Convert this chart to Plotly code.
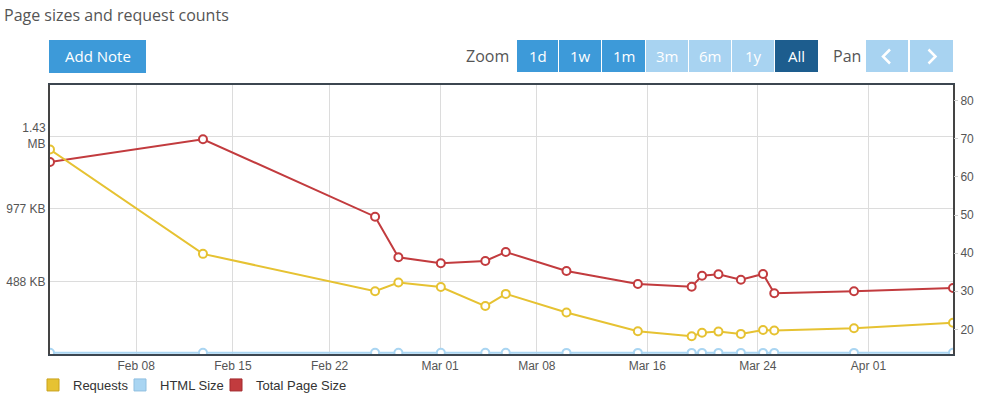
import plotly.graph_objects as go

# ---------------- data ----------------
dates = ["2016-02-01 18:15", "2016-02-12 20:00", "2016-02-25 07:00", "2016-02-26 23:30",
         "2016-03-01 01:15", "2016-03-04 06:30", "2016-03-05 18:00", "2016-03-10 03:30",
         "2016-03-15 07:30", "2016-03-19 05:00", "2016-03-19 23:00", "2016-03-21 03:30",
         "2016-03-22 18:30", "2016-03-24 09:00", "2016-03-25 04:30", "2016-03-30 23:00",
         "2016-04-07 03:00"]
requests = [67.2, 39.8, 30.0, 32.3, 31.1, 26.1, 29.3, 24.4, 19.5, 18.2, 19.1, 19.4,
            18.8, 19.8, 19.7, 20.3, 21.7]
total_page_size = [1321000, 1477600, 945000, 665500, 624200, 640000, 702000, 571200,
                   481700, 463200, 538900, 548500, 511300, 550600, 417700, 431500, 454200]
html_size = [8200, 8100, 7900, 7900, 8000, 7800, 7900, 7700, 7600, 7600, 7700, 7700,
             7600, 7700, 7600, 7700, 7800]

x_tick_dates = ["2016-02-08", "2016-02-15", "2016-02-22", "2016-03-01", "2016-03-08",
                "2016-03-16", "2016-03-24", "2016-04-01"]
left_tick_vals = [500000, 1000000, 1500000]
left_tick_text = ["488 KB", "977 KB", "1.43<br>MB"]
right_tick_vals = [20, 30, 40, 50, 60, 70, 80]

series_names = ["Requests", "HTML Size", "Total Page Size"]

# ---------------- styling ----------------
W, H = 984, 401
PL, PR, PT, PB = 50, 953, 85, 354  # plot area in px


def X(px):
    return (px - PL) / (PR - PL)


def Y(py):
    return (PB - py) / (PB - PT)


YELLOW = "#e6c232"
YELLOW_D = "#c9a21d"
BLUE = "#a9d5f2"
BLUE_D = "#8fbfe0"
RED = "#c23b3e"
RED_D = "#a32a2e"
AXFONT = dict(family="Liberation Sans, Arial, sans-serif", size=12, color="#555555")

fig = go.Figure()


def marker(c):
    return dict(symbol="circle", size=8, color="white", line=dict(color=c, width=2))


fig.add_trace(go.Scatter(x=dates, y=requests, name=series_names[0], yaxis="y2",
                         mode="lines+markers", line=dict(color=YELLOW, width=2),
                         marker=marker(YELLOW), showlegend=False))
fig.add_trace(go.Scatter(x=dates, y=html_size, name=series_names[1], yaxis="y",
                         mode="lines+markers", line=dict(color=BLUE, width=2),
                         marker=marker(BLUE), showlegend=False))
fig.add_trace(go.Scatter(x=dates, y=total_page_size, name=series_names[2], yaxis="y",
                         mode="lines+markers", line=dict(color=RED, width=2),
                         marker=marker(RED), showlegend=False))

# legend swatches (square)
leg_ids = ["legend", "legend2", "legend3"]
for name, c, cd, lid in zip(series_names, [YELLOW, BLUE, RED], [YELLOW_D, BLUE_D, RED_D], leg_ids):
    fig.add_trace(go.Scatter(x=[None], y=[None], name=name, mode="markers", legend=lid,
                             marker=dict(symbol="square", size=12, color=c,
                                         line=dict(color=cd, width=1)),
                             showlegend=True, hoverinfo="skip"))

leg_common = dict(y=Y(385), yanchor="middle", xanchor="left", orientation="h",
                  bgcolor="rgba(0,0,0,0)", borderwidth=0,
                  font=dict(family="Liberation Sans, Arial, sans-serif", size=13, color="#333333"))
legend_left_px = [33, 120, 216]

shapes = []
annotations = []

# Add Note button
shapes.append(dict(type="rect", xref="paper", yref="paper", x0=X(49), x1=X(146), y0=Y(73), y1=Y(40),
                   fillcolor="#3d9ad9", line=dict(width=0), layer="above"))
annotations.append(dict(xref="paper", yref="paper", x=X(97.5), y=Y(56.5), text="Add Note",
                        showarrow=False, xanchor="center", yanchor="middle",
                        font=dict(family="Open Sans, sans-serif", size=15, color="white")))

# Zoom buttons
annotations.append(dict(xref="paper", yref="paper", x=X(511), y=Y(56.5), text="Zoom",
                        showarrow=False, xanchor="right", yanchor="middle",
                        font=dict(family="Open Sans, sans-serif", size=16, color="#555555")))
btns = [("1d", 517, 558, "#3d9ad9"), ("1w", 559, 601, "#3d9ad9"), ("1m", 602, 645, "#3d9ad9"),
        ("3m", 646, 688, "#a8d3f1"), ("6m", 689, 731, "#a8d3f1"), ("1y", 732, 774, "#a8d3f1"),
        ("All", 775, 818, "#1d5d8e")]
for lab, a, b, col in btns:
    shapes.append(dict(type="rect", xref="paper", yref="paper", x0=X(a), x1=X(b), y0=Y(72), y1=Y(40),
                       fillcolor=col, line=dict(width=0), layer="above"))
    annotations.append(dict(xref="paper", yref="paper", x=X((a + b) / 2), y=Y(56.5), text=lab,
                            showarrow=False, xanchor="center", yanchor="middle",
                            font=dict(family="Open Sans, sans-serif", size=15, color="white")))

annotations.append(dict(xref="paper", yref="paper", x=X(831), y=Y(56.5), text="Pan",
                        showarrow=False, xanchor="left", yanchor="middle",
                        font=dict(family="Open Sans, sans-serif", size=16, color="#555555")))
for a, b, d in [(866, 908, -1), (910, 953, 1)]:
    shapes.append(dict(type="rect", xref="paper", yref="paper", x0=X(a), x1=X(b), y0=Y(72), y1=Y(40),
                       fillcolor="#a8d3f1", line=dict(width=0), layer="above"))
    cx = (a + b) / 2
    p = [(cx - 3 * d, 49.5), (cx + 4 * d, 56.5), (cx - 3 * d, 63.5)]
    path = "M {} {} L {} {} L {} {}".format(X(p[0][0]), Y(p[0][1]), X(p[1][0]), Y(p[1][1]),
                                             X(p[2][0]), Y(p[2][1]))
    shapes.append(dict(type="path", xref="paper", yref="paper", path=path,
                       line=dict(color="white", width=2.5), layer="above"))

layout = dict(
    width=W, height=H,
    margin=dict(l=PL, r=W - PR, t=PT, b=H - PB, autoexpand=False),
    paper_bgcolor="white", plot_bgcolor="white",
    title=dict(text="Page sizes and request counts", xref="container", yref="container",
               x=4 / W, xanchor="left", y=1 - 15 / H, yanchor="middle",
               font=dict(family="Open Sans, sans-serif", size=16, color="#555555")),
    xaxis=dict(type="date", range=[dates[0], dates[-1]], tickvals=x_tick_dates, tickformat="%b %d",
               showgrid=True, gridcolor="#dcdcdc", gridwidth=1, zeroline=False,
               showline=True, linecolor="#3c4650", linewidth=2, mirror=True,
               ticks="", tickfont=AXFONT, automargin=False),
    yaxis=dict(range=[0, 1851000], tickvals=left_tick_vals, ticktext=left_tick_text,
               showgrid=True, gridcolor="#dcdcdc", gridwidth=1, zeroline=False,
               showline=True, linecolor="#444444", linewidth=2, mirror=True,
               ticks="", tickfont=AXFONT, automargin=False),
    yaxis2=dict(range=[13.52, 84.12], tickvals=right_tick_vals, overlaying="y", side="right",
                showgrid=False, zeroline=False, showline=False,
                ticks="outside", ticklen=4, tickcolor="#cccccc", tickfont=AXFONT,
                automargin=False),
    shapes=shapes, annotations=annotations,
    hovermode="closest",
)
for lid, lx in zip(leg_ids, legend_left_px):
    layout[lid] = dict(x=X(lx), **leg_common)

fig.update_layout(**layout)
fig.write_html("out.html")
